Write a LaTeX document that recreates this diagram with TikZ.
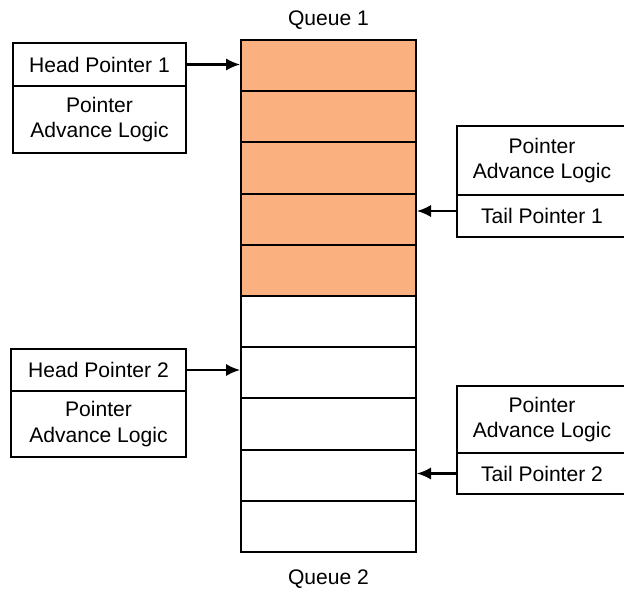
\documentclass[tikz,border=0pt]{standalone}
\usepackage{fontspec}
\setmainfont{Liberation Sans}
\usetikzlibrary{arrows.meta}

\definecolor{qorange}{RGB}{251,176,128}

\tikzset{
  box/.style={draw,line width=1.1pt,inner sep=0pt,align=center,
    font=\fontsize{12}{14.7}\selectfont},
  cell/.style={draw,line width=1.1pt,minimum width=3.5cm,minimum height=1.024cm,inner sep=0pt},
  ptr/.style={line width=1.2pt,-{Latex[length=8pt,width=7pt]}}
}

\begin{document}
\begin{tikzpicture}[x=0.02cm,y=-0.02cm]
\useasboundingbox (0,0) rectangle (624,592);

% queue cells, the first five are full
\foreach \i in {1,...,10}{
  \ifnum\i<6
    \node[cell,fill=qorange] (cell\i) at (328.5,{40+51.2*(\i-0.5)}) {};
  \else
    \node[cell,fill=white] (cell\i) at (328.5,{40+51.2*(\i-0.5)}) {};
  \fi
}

\node[font=\fontsize{12}{14.7}\selectfont] (q1) at (328.5,20) {Queue 1};
\node[font=\fontsize{12}{14.7}\selectfont] (q2) at (328.5,579) {Queue 2};

% head pointers on the left
\node[box,minimum width=3.46cm,minimum height=0.86cm] (hp1) at (99.5,64.5) {Head Pointer 1};
\node[box,minimum width=3.46cm,minimum height=1.34cm] (pal1) at (99.5,119.5) {Pointer\\Advance Logic};
\node[box,minimum width=3.5cm,minimum height=0.84cm] (hp2) at (98.5,370) {Head Pointer 2};
\node[box,minimum width=3.5cm,minimum height=1.32cm] (pal2) at (98.5,424) {Pointer\\Advance Logic};

% tail pointers on the right
\node[box,minimum width=3.4cm,minimum height=1.38cm] (pal3) at (542,160.5) {Pointer\\Advance Logic};
\node[box,minimum width=3.4cm,minimum height=0.84cm] (tp1) at (542,216) {Tail Pointer 1};
\node[box,minimum width=3.4cm,minimum height=1.34cm] (pal4) at (542,419.5) {Pointer\\Advance Logic};
\node[box,minimum width=3.4cm,minimum height=0.82cm] (tp2) at (542,473.5) {Tail Pointer 2};

\draw[ptr] (hp1.east) -- (hp1.east -| cell1.west);
\draw[ptr] (hp2.east) -- (hp2.east -| cell7.west);
\draw[ptr] ([yshift=0.1cm]tp1.west) -- ([yshift=0.1cm]tp1.west -| cell4.east);
\draw[ptr] (tp2.west) -- (tp2.west -| cell9.east);

\end{tikzpicture}
\end{document}
